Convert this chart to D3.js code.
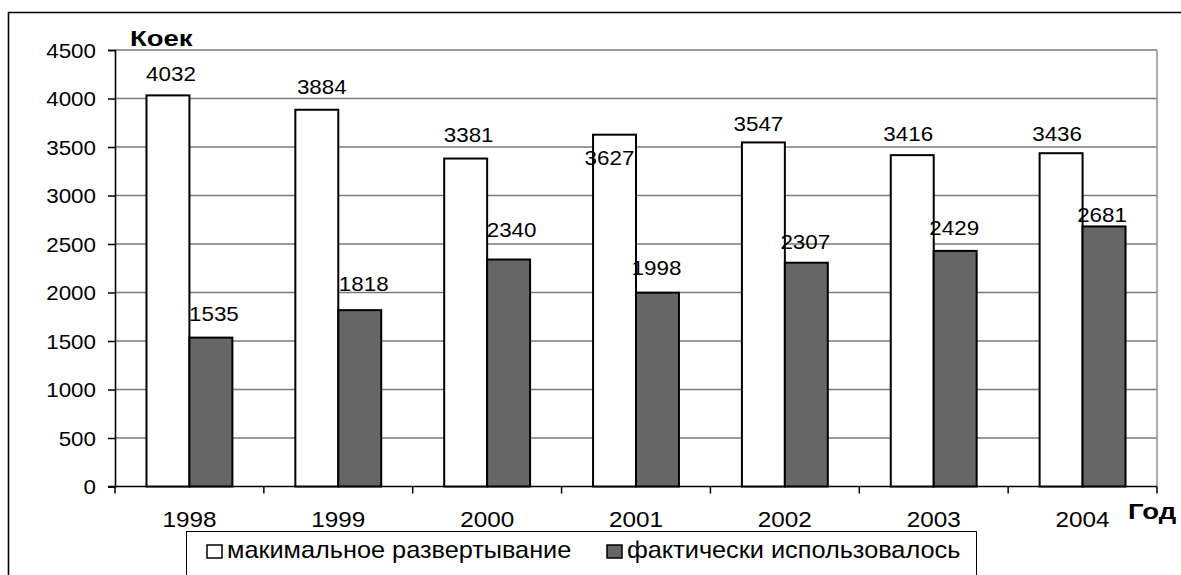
<!DOCTYPE html>
<html>
<head>
<meta charset="utf-8">
<script src="https://cdn.jsdelivr.net/npm/d3@7"></script>
<style>
  html, body { margin: 0; padding: 0; background: #fff; }
  svg { display: block; }
  text { font-family: "Liberation Sans", Arial, sans-serif; fill: #000; }
</style>
</head>
<body>
<svg id="chart" width="1181" height="575"></svg>
<script>
// Bed capacity by year
const years = ["1998", "1999", "2000", "2001", "2002", "2003", "2004"];
const maxBeds = [4032, 3884, 3381, 3627, 3547, 3416, 3436];
const usedBeds = [1535, 1818, 2340, 1998, 2307, 2429, 2681];
const seriesNames = ["макимальное развертывание", "фактически использовалось"];
const yTicks = [0, 500, 1000, 1500, 2000, 2500, 3000, 3500, 4000, 4500];

// hand-placed value label offsets [dx, gap above bar top]
const maxLabelShift = [[3, 14], [5, 16], [3, 17], [-5, -30], [-5, 11], [-4, 14], [-4, 12]];
const usedLabelShift = [[3, 17], [4, 19], [3, 23], [-1, 18], [-1, 14], [-1, 16], [-2, 4]];

const W = 1181, H = 575;
const plot = { left: 115, right: 1157, top: 50, bottom: 486.5 };

const svg = d3.select("#chart");

// outer frame (only left and top edges visible)
svg.append("path")
  .attr("d", `M8.5,${H} V12.5 H${W}`)
  .attr("fill", "none").attr("stroke", "#000").attr("stroke-width", 1.6);

const x0 = d3.scaleBand().domain(years).range([plot.left, plot.right])
  .paddingInner(0.423).paddingOuter(0.2115);
const x1 = d3.scaleBand().domain([0, 1]).range([0, x0.bandwidth()]);
const y = d3.scaleLinear().domain([0, 4500]).range([plot.bottom, plot.top]);

// gridlines
svg.append("g").selectAll("line").data(yTicks.filter(d => d > 0)).join("line")
  .attr("x1", plot.left).attr("x2", plot.right)
  .attr("y1", d => y(d)).attr("y2", d => y(d))
  .attr("stroke", "#7a7a7a").attr("stroke-width", 1.5);

// right border of plot
svg.append("line")
  .attr("x1", plot.right).attr("x2", plot.right)
  .attr("y1", plot.top).attr("y2", plot.bottom)
  .attr("stroke", "#999").attr("stroke-width", 1.6);

// stretched text helper
function label(g, tx, ty, str, anchor, size, sx, bold) {
  const t = g.append("text")
    .attr("transform", `translate(${tx},${ty}) scale(${sx},1)`)
    .attr("text-anchor", anchor)
    .attr("font-size", size)
    .text(str);
  if (bold) t.attr("font-weight", "bold");
  return t;
}

// y axis
const yAxis = svg.append("g").attr("transform", `translate(${plot.left},0)`)
  .call(d3.axisLeft(y).tickValues(yTicks).tickSize(7).tickFormat(""));
yAxis.select(".domain").attr("stroke", "#000").attr("stroke-width", 1.6);
yAxis.selectAll(".tick line").attr("stroke", "#000").attr("stroke-width", 1.5);
const yl = svg.append("g");
yTicks.forEach(v => label(yl, 96, y(v) + 7.5, String(v), "end", 20, 1.12));

// x axis
const xAxis = svg.append("g").attr("transform", `translate(0,${plot.bottom})`);
xAxis.append("line").attr("x1", plot.left - 7).attr("x2", plot.right)
  .attr("stroke", "#000").attr("stroke-width", 1.6);
const bounds = years.map(d => x0(d) - x0.step() * 0.2115).concat([plot.right]);
xAxis.selectAll(".tk").data(bounds).join("line").attr("class", "tk")
  .attr("x1", d => d).attr("x2", d => d).attr("y1", 0).attr("y2", 7)
  .attr("stroke", "#000").attr("stroke-width", 1.5);
const xl = svg.append("g");
years.forEach(yr => label(xl, x0(yr) + x0.bandwidth() / 2, 527, yr, "middle", 22.5, 1.08));

// bars
const barData = [];
years.forEach((yr, i) => {
  barData.push({ yr, s: 0, v: maxBeds[i], sh: maxLabelShift[i] });
  barData.push({ yr, s: 1, v: usedBeds[i], sh: usedLabelShift[i] });
});
const fills = ["#ffffff", "#666666"];
svg.append("g").selectAll("rect").data(barData).join("rect")
  .attr("x", d => x0(d.yr) + x1(d.s))
  .attr("y", d => y(d.v))
  .attr("width", x1.bandwidth())
  .attr("height", d => y(0) - y(d.v))
  .attr("fill", d => fills[d.s])
  .attr("stroke", "#000").attr("stroke-width", 2);

// value labels
const vl = svg.append("g");
barData.forEach(d => {
  label(vl, x0(d.yr) + x1(d.s) + x1.bandwidth() / 2 + d.sh[0], y(d.v) - d.sh[1],
        String(d.v), "middle", 20, 1.12);
});

// axis titles
label(svg, 130, 46, "Коек", "start", 22, 1.25, true);
label(svg, 1128, 519, "Год", "start", 22, 1.25, true);

// legend
const lg = svg.append("g");
lg.append("rect").attr("x", 186.5).attr("y", 531.5).attr("width", 790).attr("height", 60)
  .attr("fill", "#fff").attr("stroke", "#000").attr("stroke-width", 1);
const legendX = [207, 607];
seriesNames.forEach((name, i) => {
  lg.append("rect").attr("x", legendX[i]).attr("y", 545).attr("width", 15).attr("height", 13)
    .attr("fill", fills[i]).attr("stroke", "#000").attr("stroke-width", 1.5);
  label(lg, legendX[i] + 20, 558, name, "start", 23, 1.1);
});
</script>
</body>
</html>
